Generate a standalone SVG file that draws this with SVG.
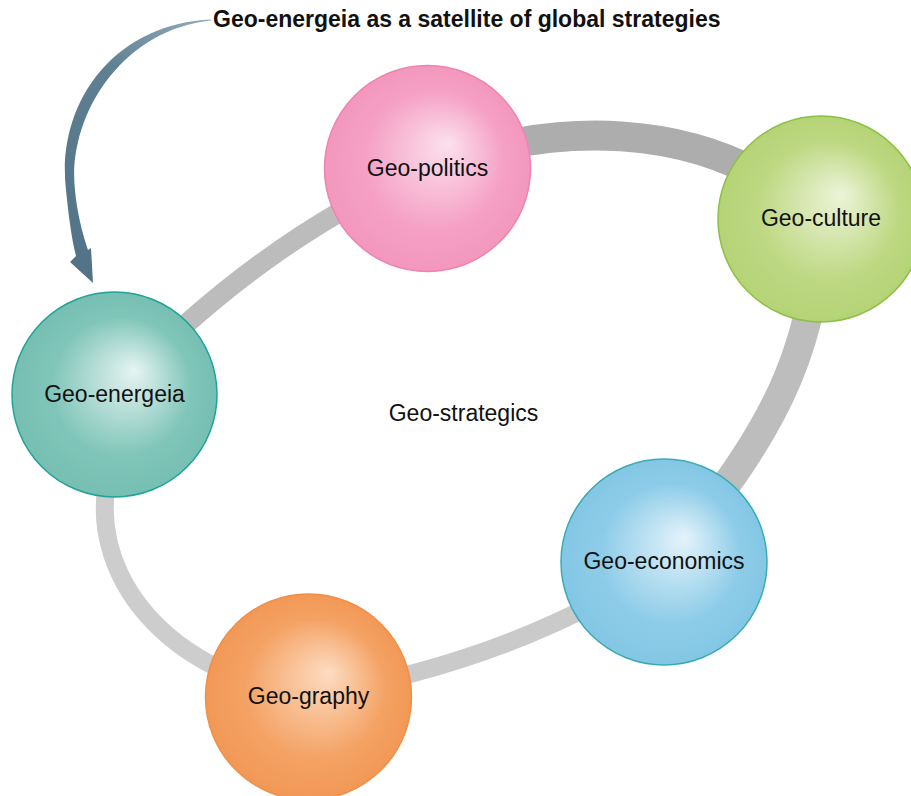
<svg xmlns="http://www.w3.org/2000/svg" width="911" height="796" viewBox="0 0 911 796">
<defs>
<style>
.lbl{font-family:"Liberation Sans",Arial,sans-serif;font-size:23px;fill:#111;text-anchor:middle}
.title{font-family:"Liberation Sans",Arial,sans-serif;font-size:23px;font-weight:bold;fill:#111}
.seg{fill:none;stroke-linecap:butt}
</style>
<radialGradient id="gE" cx="0.5" cy="0.5" r="0.5" fx="0.6" fy="0.38"><stop offset="0" stop-color="#e6f4f1"/><stop offset="0.68" stop-color="#80c5b9"/><stop offset="1" stop-color="#76bfb2"/></radialGradient>
<radialGradient id="gP" cx="0.5" cy="0.5" r="0.5" fx="0.6" fy="0.38"><stop offset="0" stop-color="#fce1ed"/><stop offset="0.68" stop-color="#f5a0c4"/><stop offset="1" stop-color="#f397bd"/></radialGradient>
<radialGradient id="gC" cx="0.5" cy="0.5" r="0.5" fx="0.6" fy="0.38"><stop offset="0" stop-color="#ecf4d9"/><stop offset="0.68" stop-color="#bdd882"/><stop offset="1" stop-color="#b5d376"/></radialGradient>
<radialGradient id="gEc" cx="0.5" cy="0.5" r="0.5" fx="0.6" fy="0.38"><stop offset="0" stop-color="#e5f3fb"/><stop offset="0.68" stop-color="#8dcce8"/><stop offset="1" stop-color="#83c7e5"/></radialGradient>
<radialGradient id="gG" cx="0.5" cy="0.5" r="0.5" fx="0.6" fy="0.38"><stop offset="0" stop-color="#fddcc2"/><stop offset="0.68" stop-color="#f4a264"/><stop offset="1" stop-color="#f29856"/></radialGradient>
<linearGradient id="gArrow" x1="211" y1="20" x2="90" y2="280" gradientUnits="userSpaceOnUse"><stop offset="0" stop-color="#8fa9ba"/><stop offset="0.3" stop-color="#5f7f92"/><stop offset="1" stop-color="#527386"/></linearGradient>
</defs>
<rect width="911" height="796" fill="#ffffff"/>
<g id="connectors">
<path class="seg" d="M114 394 Q260 240 427 168" stroke="#bcbcbc" stroke-width="20"/>
<path class="seg" d="M427 168 C540 125 700 110 821 218" stroke="#adadad" stroke-width="30"/>
<path class="seg" d="M821 218 C815 330 790 420 664 562" stroke="#bdbdbd" stroke-width="29"/>
<path class="seg" d="M664 562 Q520 660 308 696" stroke="#cacaca" stroke-width="18"/>
<path class="seg" d="M308 696 C150 670 85 560 110 470 L114 394" stroke="#cdcdcd" stroke-width="18"/>
<path id="satellite-arrow" d="M211 19.5 C112 24 56 105 66 190 C69 220 72 240 76 256 L70 262 L93 283 L91 248 L88 250 C82 232 77 212 75 190 C67 118 120 30 211 20.5 Z" fill="url(#gArrow)"/>
</g>
<g id="geo-energeia"><circle cx="114.5" cy="394.5" r="102.5" fill="url(#gE)" stroke="#1fa398" stroke-width="1.5"/><text class="lbl" x="114.5" y="402">Geo-energeia</text></g>
<g id="geo-politics"><circle cx="427.5" cy="168.5" r="103" fill="url(#gP)" stroke="#ef83b1" stroke-width="1.5"/><text class="lbl" x="427.5" y="176">Geo-politics</text></g>
<g id="geo-culture"><circle cx="821" cy="219" r="103" fill="url(#gC)" stroke="#8cc043" stroke-width="1.5"/><text class="lbl" x="821" y="226">Geo-culture</text></g>
<g id="geo-economics"><circle cx="664" cy="562" r="103" fill="url(#gEc)" stroke="#3aabb4" stroke-width="1.5"/><text class="lbl" x="664" y="569">Geo-economics</text></g>
<g id="geo-graphy"><circle cx="308.5" cy="697" r="103" fill="url(#gG)" stroke="#f08f48" stroke-width="1.5"/><text class="lbl" x="308.5" y="704">Geo-graphy</text></g>
<g id="geo-strategics"><text class="lbl" x="463.5" y="421">Geo-strategics</text></g>
<g id="title"><text class="title" x="213" y="27">Geo-energeia as a satellite of global strategies</text></g>
</svg>
